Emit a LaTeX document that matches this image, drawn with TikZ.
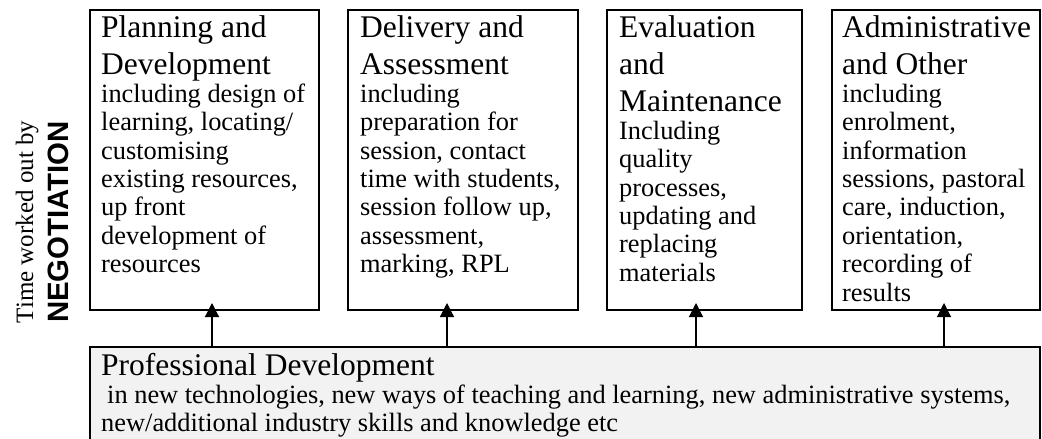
\documentclass[tikz,border=0pt]{standalone}
\usepackage{fontspec}
\setmainfont{Liberation Serif}
\newfontfamily\labelsans{Liberation Sans}
\usetikzlibrary{arrows.meta}
\definecolor{pdgray}{HTML}{F2F2F2}
% natural interword spacing of the chosen size (align=left fixes it otherwise)
\newcommand\headfont{\fontsize{31.5}{37}\selectfont\spaceskip=0pt\xspaceskip=0pt\relax}
\newcommand\bodyfont{\fontsize{26.4}{28.4}\selectfont\spaceskip=0pt\xspaceskip=0pt\relax}
\tikzset{
  panel/.style={draw=black, line width=1.6pt, rectangle, inner sep=0pt, outer sep=0pt},
  paneltext/.style={anchor=base west, inner sep=0pt, text width=300pt, align=left},
  sidelabel/.style={anchor=base, rotate=90, inner sep=0pt},
  feed/.style={-{Triangle[length=14pt,width=14pt]}, line width=1.2pt},
}
\begin{document}
\begin{tikzpicture}[x=1pt,y=-1pt]
\clip (0,0) rectangle (1042,439);
\fill[white] (0,0) rectangle (1042,439);

% four activity panels
\node[panel, minimum width=229pt, minimum height=300pt] (b1) at (204.5,160) {};
\node[panel, minimum width=230pt, minimum height=300pt] (b2) at (463,160) {};
\node[panel, minimum width=195pt, minimum height=300pt] (b3) at (704.5,160) {};
\node[panel, minimum width=208pt, minimum height=300pt] (b4) at (936,160) {};

% professional development base panel
\node[panel, fill=pdgray, minimum width=950pt, minimum height=113pt] (pd) at (565,403.5) {};

% panel texts
\node[paneltext] (t1) at (101,37) {\headfont Planning and\\Development\par
  \bodyfont including design of\\learning, locating/\\customising\\existing resources,\\up front\\development of\\resources\par};
\node[paneltext] (t2) at (360,37) {\headfont Delivery and\\Assessment\par
  \bodyfont including\\preparation for\\session, contact\\time with students,\\session follow up,\\assessment,\\marking, RPL\par};
\node[paneltext] (t3) at (619,37) {\headfont Evaluation\\and\\Maintenance\par
  \bodyfont Including\\quality\\processes,\\updating and\\replacing\\materials\par};
\node[paneltext] (t4) at (842,37) {\headfont Administrative\\and Other\par
  \bodyfont including\\enrolment,\\information\\sessions, pastoral\\care, induction,\\orientation,\\recording of\\results\par};
\node[paneltext, text width=940pt] (t5) at (101,375) {\headfont Professional Development\par
  \bodyfont\hspace*{6pt}in new technologies, new ways of teaching and learning, new administrative systems,\\new/additional industry skills and knowledge etc\par};

% rotated side label
\node[sidelabel, font=\fontsize{25}{29}\selectfont] (neg1) at (33,222) {Time worked out by};
\node[sidelabel, font=\labelsans\bfseries\fontsize{29.4}{33}\selectfont] (neg2) at (68,222) {NEGOTIATION};

% arrows from the base panel up into each activity panel
\coordinate (a1) at (212,303);
\coordinate (a2) at (447,303);
\coordinate (a3) at (696,303);
\coordinate (a4) at (944,303);
\draw[feed] (pd.north -| a1) -- (a1);
\draw[feed] (pd.north -| a2) -- (a2);
\draw[feed] (pd.north -| a3) -- (a3);
\draw[feed] (pd.north -| a4) -- (a4);
\end{tikzpicture}
\end{document}
